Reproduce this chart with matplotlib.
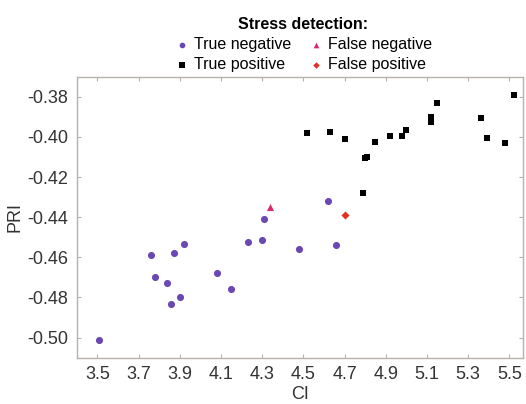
import matplotlib
matplotlib.use('Agg')
import matplotlib.pyplot as plt

plt.rcParams['font.family'] = ['Liberation Sans', 'DejaVu Sans']

# True negative (circles)
tn_ci = [3.51, 3.76, 3.78, 3.87, 3.92, 3.84, 3.86, 3.90, 4.08, 4.15, 4.23, 4.31, 4.30,
         4.62, 4.48, 4.66]
tn_pri = [-0.501, -0.459, -0.470, -0.458, -0.4535, -0.473, -0.483, -0.480, -0.468, -0.476,
          -0.4525, -0.441, -0.4515, -0.432, -0.456, -0.4537]
# False negative (triangle)
fn_ci = [4.34]
fn_pri = [-0.435]
# True positive (squares)
tp_ci = [4.52, 4.63, 4.70, 4.85, 4.92, 4.98, 5.00, 4.80, 4.81, 4.79, 5.12, 5.12, 5.15,
         5.36, 5.39, 5.48, 5.52]
tp_pri = [-0.398, -0.3975, -0.401, -0.4025, -0.3994, -0.3997, -0.3967, -0.4105, -0.410,
          -0.428, -0.390, -0.3927, -0.383, -0.3904, -0.4004, -0.4032, -0.3792]
# False positive (diamond)
fp_ci = [4.70]
fp_pri = [-0.439]

x_ticks = [3.5, 3.7, 3.9, 4.1, 4.3, 4.5, 4.7, 4.9, 5.1, 5.3, 5.5]
y_ticks = [-0.50, -0.48, -0.46, -0.44, -0.42, -0.40, -0.38]

fig = plt.figure(figsize=(5.26, 4.04), dpi=100)
ax = fig.add_axes([0.1458, 0.1146, 0.8485, 0.6955])

h_tn = ax.scatter(tn_ci, tn_pri, s=26, marker='o', color='#6a47b2', linewidths=0)
h_fn = ax.scatter(fn_ci, fn_pri, s=26, marker='^', color='#d9296f', linewidths=0)
h_tp = ax.scatter(tp_ci, tp_pri, s=22, marker='s', color='black', linewidths=0)
h_fp = ax.scatter(fp_ci, fp_pri, s=17, marker='D', color='#e2311f', linewidths=0)

ax.set_xlim(3.4, 5.566)
ax.set_ylim(-0.51, -0.37)
ax.set_xticks(x_ticks)
ax.set_xticklabels([f'{v:.1f}' for v in x_ticks])
ax.set_yticks(y_ticks)
ax.set_yticklabels([f'{v:.2f}' for v in y_ticks])

spine_col = '#b8b2ac'
for sp in ax.spines.values():
    sp.set_color(spine_col)
    sp.set_linewidth(1.0)
ax.tick_params(direction='in', length=3, width=0.8, color=spine_col,
               labelsize=13, labelcolor='#333333', top=True, right=True, pad=6)

ax.set_xlabel('CI', fontsize=13, color='#333333', labelpad=2)
ax.set_ylabel('PRI', fontsize=13, color='#333333', labelpad=3)

leg = fig.legend([h_tn, h_tp, h_fn, h_fp],
                 ['True negative', 'True positive', 'False negative', 'False positive'],
                 ncol=2, loc='upper center', bbox_to_anchor=(0.576, 0.985),
                 frameon=False, fontsize=11.5, title='Stress detection:',
                 title_fontproperties={'weight': 'bold', 'size': 11.5},
                 handletextpad=0.3, columnspacing=1.0, labelspacing=0.3,
                 handlelength=1.0, borderpad=0.2, markerscale=0.8)

fig.savefig('out.png', dpi=100)
